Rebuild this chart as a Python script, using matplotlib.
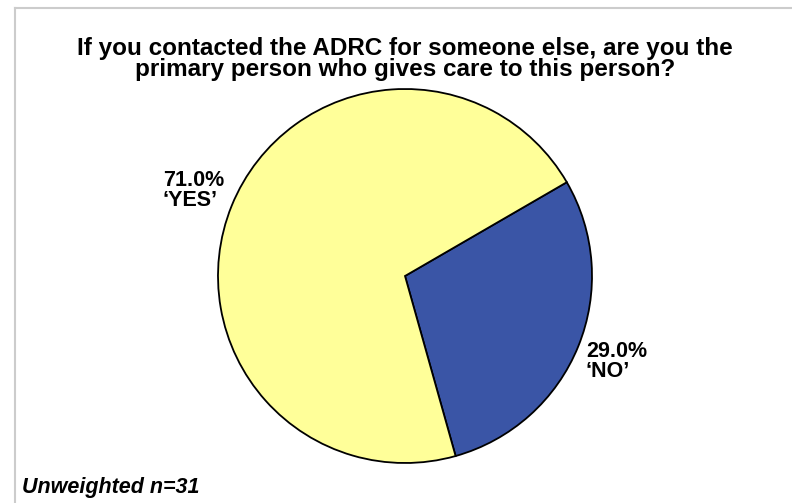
import numpy as np
import matplotlib
matplotlib.use("Agg")
import matplotlib.pyplot as plt
from matplotlib.lines import Line2D

# answers to the caregiver question
answers = ["NO", "YES"]
shares = [29.0, 71.0]
sample_n = 31

W, H = 792, 503
fig = plt.figure(figsize=(W / 100, H / 100), dpi=100)
fig.patch.set_facecolor("white")

# thin grey frame along the top and left
fig.add_artist(Line2D([14.5 / W, 1], [1 - 7.5 / H, 1 - 7.5 / H], color="#cccccc", lw=1.5))
fig.add_artist(Line2D([14.5 / W, 14.5 / W], [0, 1 - 7.5 / H], color="#cccccc", lw=1.5))

cx, cy, r = 405, 276, 187
ax = fig.add_axes([(cx - r) / W, (H - cy - r) / H, 2 * r / W, 2 * r / H])
wedges, _ = ax.pie(shares, colors=["#3A55A6", "#FFFF99"], startangle=30.1,
                   counterclock=False,
                   wedgeprops=dict(edgecolor="black", linewidth=1.3))
ax.set_xlim(-1, 1)
ax.set_ylim(-1, 1)
ax.set_aspect("equal")
ax.axis("off")

for w, lab, v in zip(wedges, answers, shares):
    mid = np.deg2rad((w.theta1 + w.theta2) / 2)
    x, y = 1.22 * np.cos(mid), 1.22 * np.sin(mid)
    ax.text(x, y, f"{v:.1f}%\n\u2018{lab}\u2019", ha="center", va="center",
            multialignment="left",
            fontsize=15.5, fontweight="bold", family=["Liberation Sans", "DejaVu Sans"],
            linespacing=0.95, clip_on=False)

fig.text(405 / W, 1 - 37 / H,
         "If you contacted the ADRC for someone else, are you the\n"
         "primary person who gives care to this person?",
         ha="center", va="top", fontsize=17.5, fontweight="bold",
         family=["Liberation Sans", "DejaVu Sans"],
         linespacing=0.88)

fig.text(22 / W, 1 - 487 / H, f"Unweighted n={sample_n}", ha="left", va="center",
         fontsize=15.5, fontweight="bold", style="italic",
         family=["Liberation Sans", "DejaVu Sans"])

fig.savefig("out.png", dpi=100)
